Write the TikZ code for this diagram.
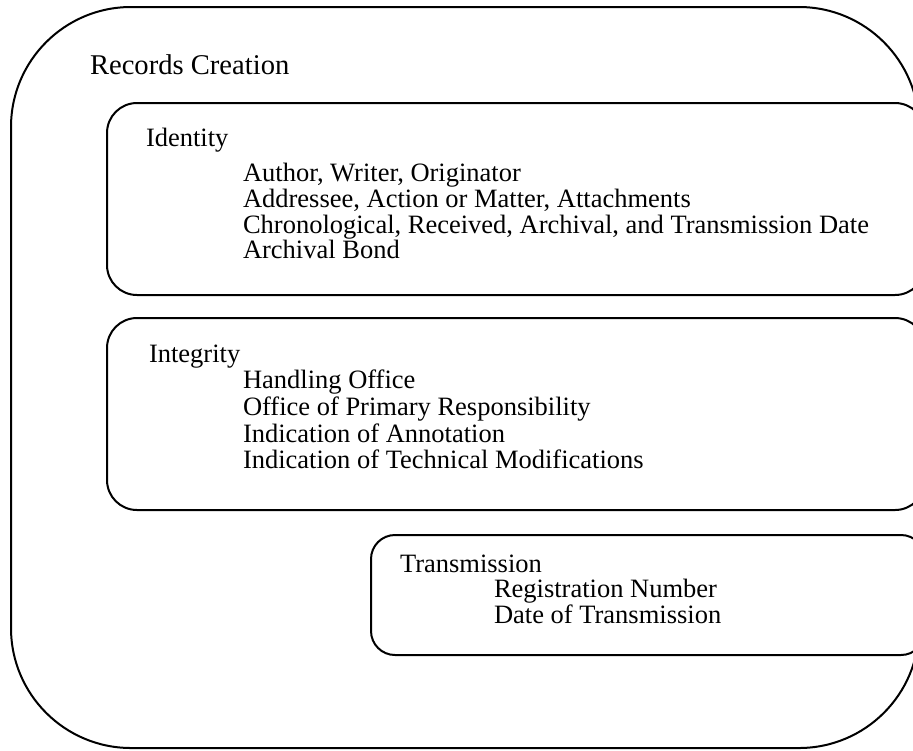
\documentclass[tikz,border=0pt]{standalone}
\usepackage{fontspec}
\setmainfont{Liberation Serif}

\begin{document}
\begin{tikzpicture}[x=0.5pt,y=-0.5pt,line width=1pt,
    box/.style={rectangle,draw,inner sep=0pt},
    txt/.style={anchor=base west,inner sep=0pt,font=\fontsize{13.25}{13.25}\selectfont}]
    \useasboundingbox (0,0) rectangle (913,750);
    \clip (0,0) rectangle (913,750);
    \node (outer) at (465,377.5) [box,rounded corners=60pt,minimum width=454pt,minimum height=370.5pt] {};
    \node (idbox) at (516,199) [box,rounded corners=15pt,minimum width=409pt,minimum height=96pt] {};
    \node (inbox) at (516,414) [box,rounded corners=15pt,minimum width=409pt,minimum height=96pt] {};
    \node (trbox) at (648,595) [box,rounded corners=12pt,minimum width=277pt,minimum height=60pt] {};
    \node (rc) at (89,74) [txt,font=\fontsize{14.3}{14.3}\selectfont] {Records Creation};
    \node (id) at (145,146) [txt] {Identity};
    \node (id1) at (242,181) [txt] {Author, Writer, Originator};
    \node (id2) at (242,207) [txt] {Addressee, Action or Matter, Attachments};
    \node (id3) at (242,233) [txt] {Chronological, Received, Archival, and Transmission Date};
    \node (id4) at (242,258) [txt] {Archival Bond};
    \node (in) at (148,362) [txt] {Integrity};
    \node (in1) at (242,388) [txt] {Handling Office};
    \node (in2) at (242,415) [txt] {Office of Primary Responsibility};
    \node (in3) at (242,442) [txt] {Indication of Annotation};
    \node (in4) at (242,468) [txt] {Indication of Technical Modifications};
    \node (tr) at (399,572) [txt] {Transmission};
    \node (tr1) at (493,597) [txt] {Registration Number};
    \node (tr2) at (493,623) [txt] {Date of Transmission};
  \end{tikzpicture}
\end{document}
